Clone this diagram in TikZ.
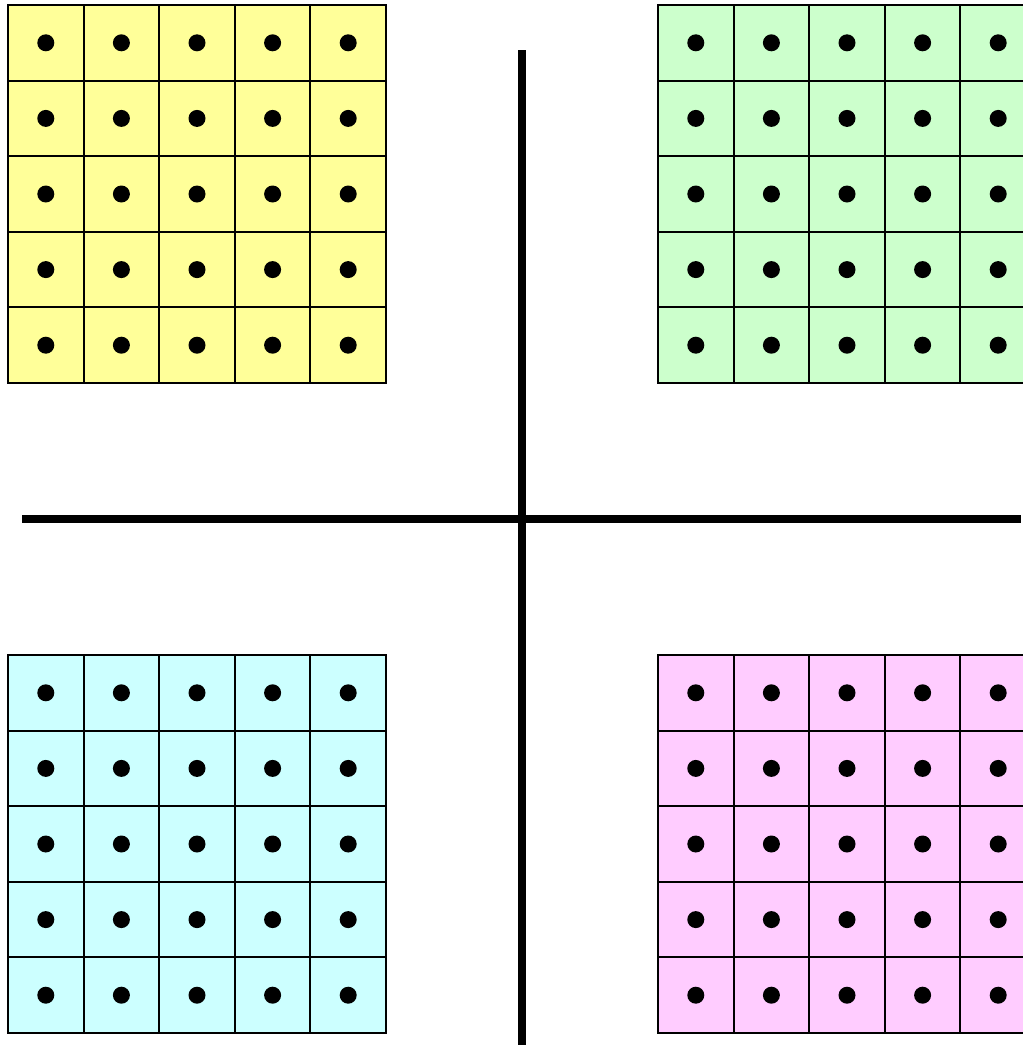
\documentclass[tikz,border=0pt]{standalone}
\usepackage{tikz}
\definecolor{gridyellow}{HTML}{FFFF99}
\definecolor{gridgreen}{HTML}{CCFFCC}
\definecolor{gridcyan}{HTML}{CCFFFF}
\definecolor{gridpink}{HTML}{FFCCFF}
\tikzset{
  cell/.style={draw=black,line width=2pt},
  axis/.style={draw=black,line width=8pt}
}
\begin{document}
\begin{tikzpicture}[x=1pt,y=-1pt]
  \useasboundingbox (0,0) rectangle (1023,1045);
  \clip (0,0) rectangle (1023,1045);
  % four 5x5 blocks of cells, one dot per cell
  \foreach \bx/\by/\col in {8/5/gridyellow,658/5/gridgreen,8/655/gridcyan,658/655/gridpink}{
    \filldraw[fill=\col,cell] (\bx,\by) rectangle +(378,378);
    \foreach \k in {1,...,4}{
      \draw[cell] ({\bx+\k*75.6},\by) -- +(0,378);
      \draw[cell] (\bx,{\by+\k*75.6}) -- +(378,0);
    }
    \foreach \i in {0,...,4}{
      \foreach \j in {0,...,4}{
        \fill ({\bx+(\i+0.5)*75.6},{\by+(\j+0.5)*75.6}) circle (8.5pt);
      }
    }
  }
  % dividing cross
  \draw[axis] (522,50) -- (522,1045);
  \draw[axis] (22,519) -- (1021,519);
\end{tikzpicture}
\end{document}
